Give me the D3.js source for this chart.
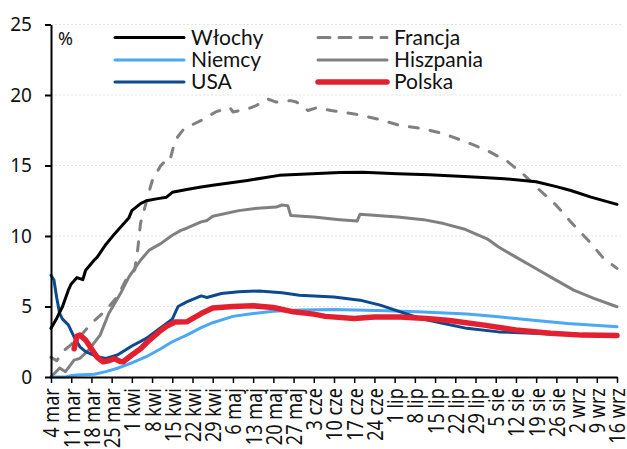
<!DOCTYPE html>
<html>
<head>
<meta charset="utf-8">
<script src="https://cdn.jsdelivr.net/npm/d3@7"></script>
<style>
  html, body { margin: 0; padding: 0; background: #fff; }
  svg { display: block; }
</style>
</head>
<body>
<svg id="chart" width="627" height="449"></svg>
<script>
// Weekly tick labels, one every 7 days starting on 4 March
const tickLabels = ["4 mar", "11 mar", "18 mar", "25 mar", "1 kwi", "8 kwi", "15 kwi", "22 kwi", "29 kwi",
  "6 maj", "13 maj", "20 maj", "27 maj", "3 cze", "10 cze", "17 cze", "24 cze", "1 lip", "8 lip",
  "15 lip", "22 lip", "29 lip", "5 sie", "12 sie", "19 sie", "26 sie", "2 wrz", "9 wrz", "16 wrz"];
const yTicks = [0, 5, 10, 15, 20, 25];

// Each series: [days since 4 March, percent]
const wlochy = [[0,3.45],[2,4.17],[4,5.0],[6,6.16],[7,6.6],[9,7.05],[11,6.9],[12,7.57],[15,8.3],[16,8.5],
  [19,9.4],[22,10.15],[24,10.6],[27,11.3],[28,11.8],[31,12.3],[33,12.5],[37,12.65],[40,12.75],[42,13.1],
  [47,13.3],[52,13.47],[56,13.6],[68,13.94],[79,14.3],[100,14.5],[108,14.53],[120,14.42],[131,14.35],
  [143,14.22],[151,14.13],[157,14.06],[168,13.85],[175,13.5],[180,13.23],[187,12.76],[196,12.24]];
const francja = [[0,1.4],[2,1.15],[4,1.8],[7,2.3],[8,2.6],[11,3.1],[14,3.8],[19,4.74],[23,5.7],[26,6.9],
  [29,7.6],[30,9.0],[31,10.9],[33,12.4],[35,13.9],[38,15.0],[39,15.2],[41,15.2],[43,16.8],[46,17.6],
  [49,17.9],[53,18.3],[57,18.8],[62,19.1],[63,18.8],[68,19.0],[71,19.25],[75,19.72],[78,19.5],[83,19.6],
  [85,19.5],[89,18.9],[92,19.1],[97,18.9],[105,18.66],[113,18.3],[121,17.83],[129,17.6],[136,17.25],
  [144,16.65],[151,16.07],[158,15.3],[164,14.3],[169,13.3],[175,12.17],[180,11.0],[186,9.7],[191,8.5],[196,7.7]];
const niemcy = [[0,0],[5,0],[7,0.1],[9,0.14],[15,0.2],[19,0.38],[23,0.62],[28,1.0],[33,1.44],[38,2.0],
  [42,2.5],[47,2.97],[52,3.5],[56,3.85],[63,4.3],[70,4.5],[77,4.67],[86,4.76],[98,4.79],[116,4.7],
  [127,4.62],[144,4.46],[155,4.27],[167,4.03],[179,3.8],[196,3.56]];
const hiszpania = [[0,0],[3,0.64],[5,0.38],[8,1.2],[10,1.32],[13,1.9],[17,2.97],[20,4.5],[24,5.9],[27,7.1],
  [31,8.28],[34,9.0],[38,9.46],[42,10.05],[45,10.4],[47,10.55],[52,11.0],[54,11.1],[56,11.4],[65,11.8],
  [70,11.94],[78,12.05],[80,12.2],[82,12.15],[83,11.46],[91,11.35],[100,11.16],[106,11.06],[107,11.54],
  [120,11.35],[129,11.16],[136,10.88],[143,10.5],[151,9.8],[155,9.22],[161,8.5],[167,7.8],[174,6.98],
  [181,6.16],[188,5.57],[196,4.98]];
const usa = [[0,7.22],[1,6.9],[2,5.6],[3,4.5],[4,4.1],[6,3.7],[8,2.85],[10,2.14],[12,1.8],[16,1.44],
  [19,1.32],[23,1.56],[28,2.2],[33,2.74],[38,3.5],[42,4.1],[44,5.0],[47,5.33],[52,5.75],[54,5.64],
  [59,5.92],[65,6.04],[72,6.1],[80,5.97],[86,5.8],[98,5.68],[107,5.45],[114,5.1],[121,4.62],[128,4.15],
  [136,3.8],[144,3.45],[155,3.2],[167,3.1],[180,3.0],[196,2.95]];
const polska = [[8,2.0],[9,2.9],[10,2.97],[12,2.62],[14,2.0],[16,1.4],[18,1.08],[20,1.15],[22,1.3],[24,1.1],
  [25,1.08],[28,1.56],[31,2.0],[34,2.6],[38,3.3],[40,3.6],[43,3.9],[47,3.91],[52,4.5],[56,4.9],[63,5.0],
  [70,5.05],[77,4.93],[84,4.62],[91,4.46],[95,4.3],[105,4.15],[112,4.25],[121,4.25],[130,4.15],[138,4.0],
  [150,3.68],[161,3.33],[173,3.1],[184,2.97],[196,2.95]];

const seriesNames = ["Włochy", "Francja", "Niemcy", "Hiszpania", "USA", "Polska"];
const seriesData = [wlochy, francja, niemcy, hiszpania, usa, polska];

// Drawing styles per series
const styles = {
  "Włochy":    { color: "#000000", width: 3,   dash: null },
  "Francja":   { color: "#808080", width: 3,   dash: "9,12" },
  "Niemcy":    { color: "#4aa8f5", width: 3,   dash: null },
  "Hiszpania": { color: "#808080", width: 3,   dash: null },
  "USA":       { color: "#0b4a8f", width: 3,   dash: null },
  "Polska":    { color: "#e3202f", width: 5.5, dash: null }
};
// draw order (Polska on top)
const drawOrder = ["Hiszpania", "Francja", "Niemcy", "USA", "Włochy", "Polska"];

const svg = d3.select("#chart");
const m = { left: 51, right: 617, top: 24.5, bottom: 377 };

const x = d3.scaleLinear().domain([0, 7 * (tickLabels.length - 1)]).range([m.left, m.right]);
const y = d3.scaleLinear().domain([0, 25]).range([m.bottom, m.top]);

// horizontal gridlines
svg.append("g")
  .selectAll("line")
  .data(yTicks.filter(v => v > 0))
  .join("line")
  .attr("x1", m.left).attr("x2", 621)
  .attr("y1", d => y(d)).attr("y2", d => y(d))
  .attr("stroke", "#e4e4e4").attr("stroke-width", 1)
  .attr("stroke-dasharray", "2,2");

// series lines
const line = d3.line().x(d => x(d[0])).y(d => y(d[1])).curve(d3.curveLinear);
const plot = svg.append("g");
drawOrder.forEach(name => {
  const s = styles[name];
  const data = seriesData[seriesNames.indexOf(name)];
  plot.append("path")
    .datum(data)
    .attr("d", line)
    .attr("fill", "none")
    .attr("stroke", s.color)
    .attr("stroke-width", s.width)
    .attr("stroke-linejoin", "round")
    .attr("stroke-linecap", "round")
    .attr("stroke-dasharray", s.dash);
});

// y axis
const yAxis = svg.append("g")
  .attr("transform", `translate(${m.left},0)`)
  .call(d3.axisLeft(y).tickValues(yTicks).tickSize(6).tickSizeOuter(0).tickPadding(13));
yAxis.select(".domain").attr("stroke", "#000").attr("stroke-width", 2);
yAxis.selectAll(".tick line").attr("stroke", "#000").attr("stroke-width", 2);
yAxis.selectAll(".tick text")
  .attr("font-family", "'Noto Sans', sans-serif")
  .attr("font-size", 19)
  .attr("fill", "#111");

// x axis, labels rotated to read upward, slightly condensed
const xAxis = svg.append("g")
  .attr("transform", `translate(0,${m.bottom})`)
  .call(d3.axisBottom(x)
    .tickValues(tickLabels.map((_, i) => i * 7))
    .tickFormat((d, i) => tickLabels[i])
    .tickSize(6).tickSizeOuter(0));
xAxis.select(".domain").attr("stroke", "#000").attr("stroke-width", 2);
xAxis.selectAll(".tick line").attr("stroke", "#000").attr("stroke-width", 1.5);
xAxis.selectAll(".tick text")
  .attr("font-family", "'Noto Sans', sans-serif")
  .attr("font-size", 21)
  .attr("fill", "#111")
  .attr("text-anchor", "end")
  .attr("transform", "rotate(-90) scale(0.86,1)")
  .attr("x", -13)
  .attr("y", 0)
  .attr("dy", "0.38em");

// unit label
svg.append("text")
  .attr("x", 58).attr("y", 45)
  .attr("font-family", "'Noto Sans', sans-serif")
  .attr("font-size", 18)
  .attr("fill", "#111")
  .text("%");

// legend: two columns of three
const legendCols = [["Włochy", "Niemcy", "USA"], ["Francja", "Hiszpania", "Polska"]];
const colX = [115, 318];
const rowY = [37.5, 60, 82];
legendCols.forEach((col, ci) => {
  col.forEach((name, ri) => {
    const s = styles[name];
    const g = svg.append("g").attr("transform", `translate(${colX[ci]},${rowY[ri]})`);
    g.append("line")
      .attr("x1", 0).attr("x2", 69)
      .attr("stroke", s.color)
      .attr("stroke-width", s.width)
      .attr("stroke-linecap", "round")
      .attr("stroke-dasharray", s.dash ? "12,9" : null);
    g.append("text")
      .attr("x", 76).attr("y", 7.3)
      .attr("font-family", "Lato, sans-serif")
      .attr("font-size", 21)
      .attr("fill", "#111")
      .text(name);
  });
});
</script>
</body>
</html>
